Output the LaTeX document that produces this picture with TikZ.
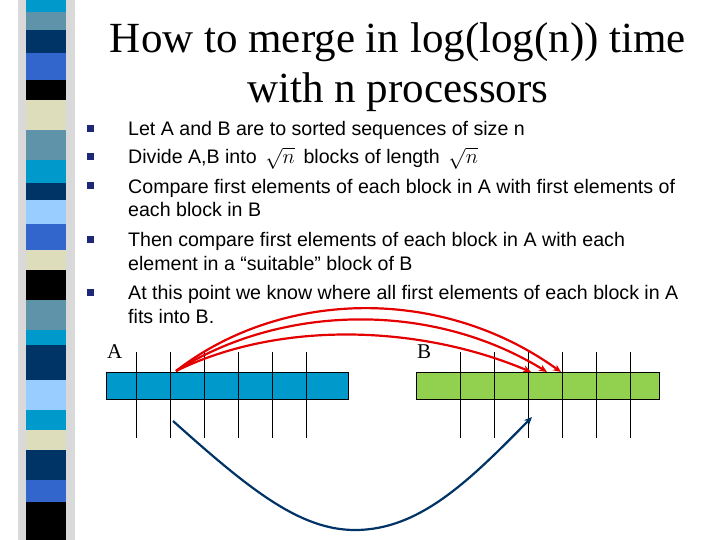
\documentclass[tikz,border=0pt]{standalone}
\usepackage{fontspec}
\usetikzlibrary{arrows.meta}
\setmainfont{Liberation Serif}
\newfontfamily\arial{Liberation Sans}
\begin{document}
\begin{tikzpicture}[x=1pt,y=-1pt,
  body/.style={anchor=base west,font=\arial\fontsize{19.6}{24}\selectfont,inner sep=0pt,align=left},
  bul/.style={fill={rgb,255:red,30;green,40;blue,120},minimum size=7pt,inner sep=0pt},
  tick/.style={black,line width=0.8pt},
  red arr/.style={red!90!black,line width=2.2pt,-{Stealth[length=8pt,width=7pt]}},
  ]
\useasboundingbox (0,0) rectangle (720,540);
% left strip
\fill[gray!30] (18,0) rectangle (75,540);
\foreach \a/\b/\c in {0/12/0099CC,12/30/5F93AA,30/53/003366,53/80/3366CC,80/100/000000,100/130/DDDDBB,130/160/5F93AA,160/183/0099CC,183/200/003366,200/224/99CCFF,224/250/3366CC,250/270/DDDDBB,270/300/000000,300/330/5F93AA,330/345/0099CC,345/380/003366,380/410/99CCFF,410/430/0099CC,430/450/DDDDBB,450/480/003366,480/502/3366CC,502/540/000000}{
  \definecolor{sc}{HTML}{\c}
  \fill[sc] (26,\a) rectangle (66,\b);
}
% title
\node[font=\fontsize{43}{50}\selectfont,align=center] (title) at (398,67) {How to merge in log(log(n)) time\\with n processors};
% bullets
\foreach \y/\n in {129/b1,157/b2,186/b3,239/b4,292/b5}{\node[bul] (\n) at (90,\y) {};}
\node[body] (t1) at (128,136) {Let A and B are to sorted sequences of size n};
\node[body] (t2) at (128,164) {Divide A,B into \,$\sqrt{n}$\, blocks of length \,$\sqrt{n}$};
\node[body] (t3) at (128,217) {Compare first elements of each block in A with first elements of\\each block in B};
\node[body] (t4) at (128,270) {Then compare first elements of each block in A with each\\element in a “suitable” block of B};
\node[body] (t5) at (128,323) {At this point we know where all first elements of each block in A\\fits into B.};
\node[anchor=base west,font=\fontsize{21}{24}\selectfont,inner sep=0pt] (la) at (107,358) {A};
\node[anchor=base west,font=\fontsize{21}{24}\selectfont,inner sep=0pt] (lb) at (417,358) {B};
% arrays
\definecolor{ablue}{HTML}{0099CC}
\definecolor{bgreen}{HTML}{92D050}
\node[draw,fill=ablue,minimum width=242pt,minimum height=27pt,inner sep=0pt,anchor=north west] (A) at (106,372) {};
\node[draw,fill=bgreen,minimum width=243pt,minimum height=27pt,inner sep=0pt,anchor=north west] (B) at (416,372) {};
\foreach \x in {136,170,204,238,272,306,460,494,528,562,596,630}{\draw[tick] (\x,352) -- (\x,438);}
% coordinates
\coordinate (s) at (176,371);
\coordinate (e1) at (531,372);
\coordinate (e2) at (547,372);
\coordinate (e3) at (561,372);
\draw[red arr] (s) .. controls (280,320) and (420,325) .. (e1);
\draw[red arr] (s) .. controls (280,305) and (430,300) .. (e2);
\draw[red arr] (s) .. controls (280,290) and (440,285) .. (e3);
\coordinate (bs) at (173,421);
\coordinate (be) at (532,417);
\draw[draw={rgb,255:red,0;green,51;blue,102},line width=2.2pt,-{Stealth[length=8pt,width=7pt]}] (bs) .. controls (250,490) and (300,530) .. (355,530) .. controls (420,530) and (470,480) .. (be);
\end{tikzpicture}
\end{document}
